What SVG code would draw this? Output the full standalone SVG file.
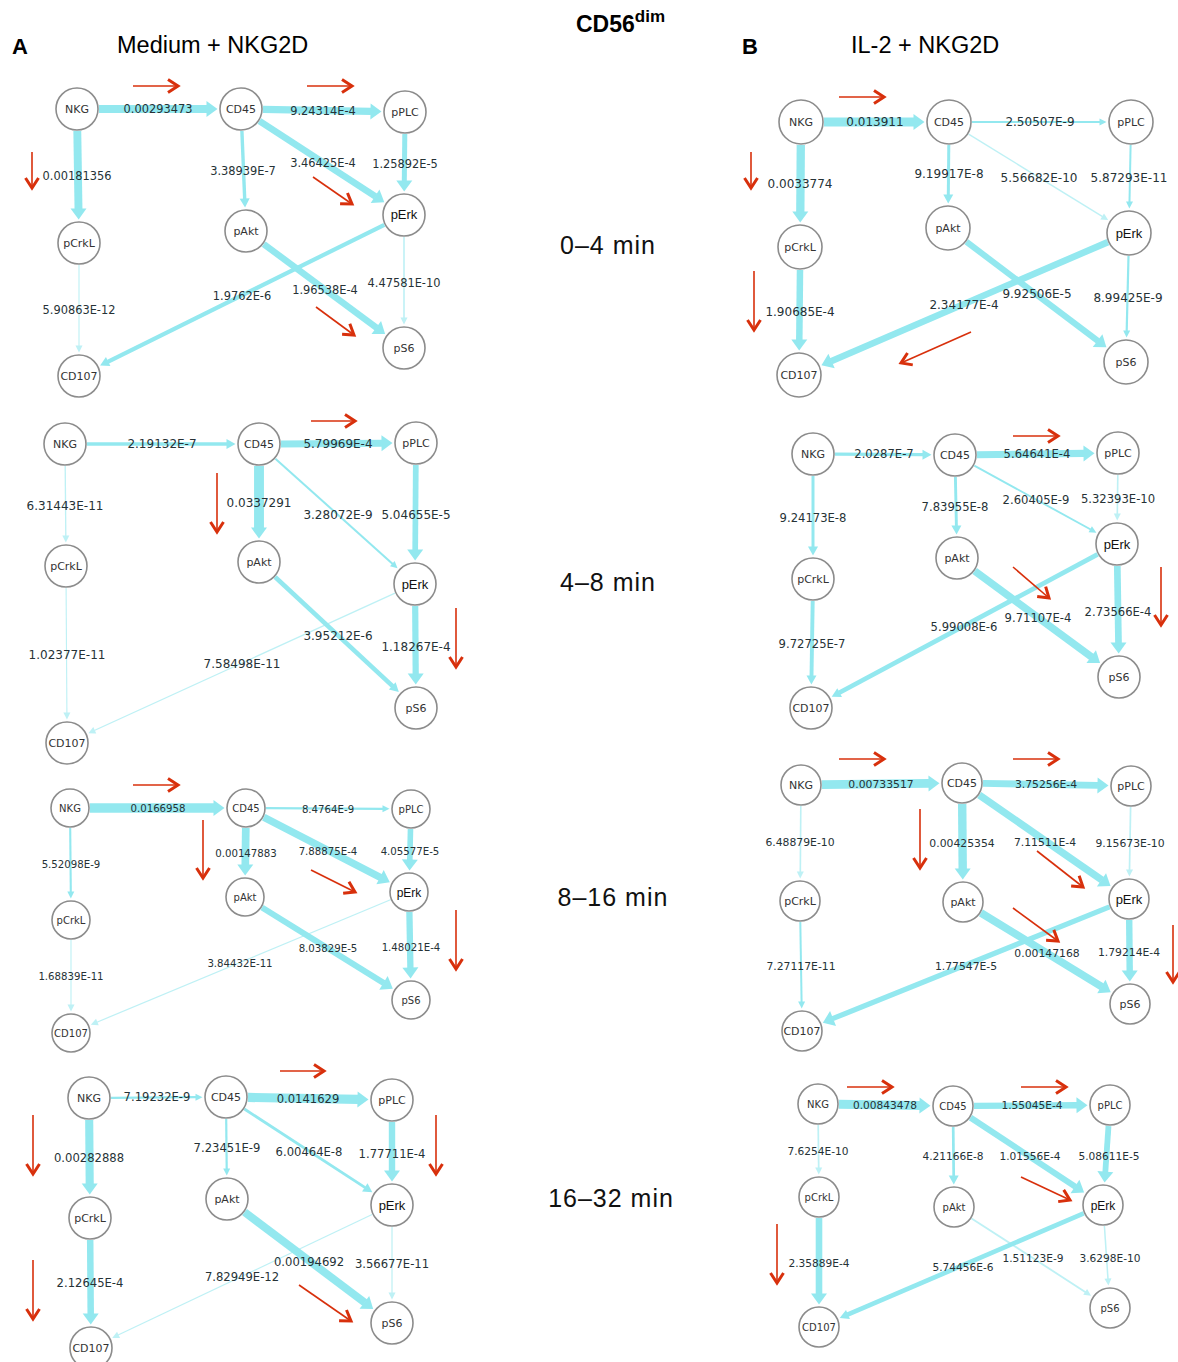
<svg xmlns="http://www.w3.org/2000/svg" width="1178" height="1362" viewBox="0 0 1178 1362">
  <style>
    .hd { font-family: "Liberation Sans", Arial, sans-serif; fill: #000; }
    .tl { font-family: "Liberation Sans", Arial, sans-serif; font-size: 25px; letter-spacing: 1px; text-anchor: middle; fill: #111; }
    .n circle { fill: #fff; stroke: #8c8c8c; stroke-width: 1.6; }
    .n text { font-family: "DejaVu Sans", Verdana, sans-serif; font-size: 11px; fill: #333; text-anchor: middle; }
    .n.sm text { font-size: 10px; }
    .n.erk text { font-family: "Liberation Sans", Arial, sans-serif; font-size: 13px; fill: #111; }
    .n.sm.erk text { font-size: 12px; }
    .e line { stroke: #93e8ef; fill: none; }
    .e line.f { opacity: 0.6; }
    .e text { font-family: "DejaVu Sans", Verdana, sans-serif; font-size: 11.4px; fill: #263236; text-anchor: middle; }
    .s12 .e text { font-size: 12px; }
    .s116 .e text { font-size: 11.6px; }
    .s108 .e text { font-size: 10.8px; }
    .s106 .e text { font-size: 10.6px; }
    .s102 .e text { font-size: 10.2px; }
    .ra line { stroke: #d8300c; stroke-width: 1.6; marker-end: url(#ra); }
  </style>
  <defs>
    <marker id="aL" markerUnits="userSpaceOnUse" markerWidth="12" markerHeight="16" refX="0.5" refY="8" orient="auto" overflow="visible">
      <path d="M0,0 L11,8 L0,16 z" fill="#93e8ef"/>
    </marker>
    <marker id="aM" markerUnits="userSpaceOnUse" markerWidth="10" markerHeight="10" refX="0.5" refY="5" orient="auto" overflow="visible">
      <path d="M0,0 L9,5 L0,10 z" fill="#93e8ef"/>
    </marker>
    <marker id="aS" markerUnits="userSpaceOnUse" markerWidth="8" markerHeight="7" refX="0.5" refY="3.5" orient="auto" overflow="visible">
      <path d="M0,0 L7,3.5 L0,7 z" fill="#93e8ef"/>
    </marker>
    <marker id="ra" markerUnits="userSpaceOnUse" markerWidth="14" markerHeight="16" refX="12" refY="8" orient="auto" overflow="visible">
      <path d="M2,1.5 L12,8 L2,14.5" fill="none" stroke="#d8300c" stroke-width="3" stroke-linejoin="miter"/>
    </marker>
  </defs>
  <rect width="1178" height="1362" fill="#fff"/>

  <!-- headings -->
  <g id="headings">
    <text class="hd" x="12" y="54" font-size="22" font-weight="bold">A</text>
    <text class="hd" x="117" y="53" font-size="23.5">Medium + NKG2D</text>
    <text class="hd" x="576" y="32" font-size="23" font-weight="bold">CD56<tspan font-size="17" dy="-10">dim</tspan></text>
    <text class="hd" x="742" y="54" font-size="22" font-weight="bold">B</text>
    <text class="hd" x="851" y="53" font-size="23.5">IL-2 + NKG2D</text>
    <text class="tl" x="608" y="254">0–4 min</text>
    <text class="tl" x="608" y="591">4–8 min</text>
    <text class="tl" x="613" y="906">8–16 min</text>
    <text class="tl" x="611" y="1207">16–32 min</text>
  </g>

  <!-- connectors: cyan edges with weights -->
  <g id="connectors">
    <g id="edges-a1">
      <g class="e"><line x1="99" y1="109" x2="207" y2="109" stroke-width="8.2" marker-end="url(#aL)"/><text x="158" y="113">0.00293473</text></g>
      <g class="e"><line x1="263" y1="109.4" x2="371" y2="111.4" stroke-width="7.4" marker-end="url(#aL)"/><text x="323" y="115">9.24314E-4</text></g>
      <g class="e"><line x1="77.3" y1="131" x2="78.5" y2="209" stroke-width="7.9" marker-end="url(#aL)"/><text x="77" y="180">0.00181356</text></g>
      <g class="e"><line x1="241.9" y1="131" x2="244.7" y2="199" stroke-width="3.4" marker-end="url(#aM)"/><text x="243" y="175">3.38939E-7</text></g>
      <g class="e"><line x1="259.4" y1="121" x2="375.5" y2="196.5" stroke-width="6.8" marker-end="url(#aL)"/><text x="323" y="167">3.46425E-4</text></g>
      <g class="e"><line x1="404.8" y1="134" x2="404.3" y2="181" stroke-width="5" marker-end="url(#aL)"/><text x="405" y="168">1.25892E-5</text></g>
      <g class="e"><line class="f" x1="79" y1="265" x2="79" y2="346" stroke-width="1.1" marker-end="url(#aS)"/><text x="79" y="314">5.90863E-12</text></g>
      <g class="e"><line x1="384.3" y1="224.8" x2="107.7" y2="361.8" stroke-width="4.2" marker-end="url(#aM)"/><text x="242" y="300">1.9762E-6</text></g>
      <g class="e"><line x1="263.7" y1="244.1" x2="376.7" y2="327.8" stroke-width="6.5" marker-end="url(#aL)"/><text x="325" y="294">1.96538E-4</text></g>
      <g class="e"><line class="f" x1="404" y1="237" x2="404" y2="318" stroke-width="1.6" marker-end="url(#aS)"/><text x="404" y="287">4.47581E-10</text></g>
    </g>
    <g id="edges-b1" class="s12">
      <g class="e"><line x1="824" y1="122" x2="914" y2="122" stroke-width="9.2" marker-end="url(#aL)"/><text x="875" y="126">0.013911</text></g>
      <g class="e"><line x1="972" y1="122" x2="1100" y2="122" stroke-width="1.9" marker-end="url(#aS)"/><text x="1040" y="126">2.50507E-9</text></g>
      <g class="e"><line x1="800.8" y1="145" x2="800.3" y2="212" stroke-width="8.3" marker-end="url(#aL)"/><text x="800" y="188">0.0033774</text></g>
      <g class="e"><line x1="948.8" y1="145" x2="948.3" y2="195" stroke-width="3" marker-end="url(#aM)"/><text x="949" y="178">9.19917E-8</text></g>
      <g class="e"><line class="f" x1="968.6" y1="134.1" x2="1102.6" y2="216.7" stroke-width="1.4" marker-end="url(#aS)"/><text x="1039" y="182">5.56682E-10</text></g>
      <g class="e"><line x1="1130.6" y1="145" x2="1129.5" y2="202" stroke-width="2" marker-end="url(#aS)"/><text x="1129" y="182">5.87293E-11</text></g>
      <g class="e"><line x1="800" y1="270" x2="799.3" y2="340" stroke-width="6.5" marker-end="url(#aL)"/><text x="800" y="316">1.90685E-4</text></g>
      <g class="e"><line x1="1107.9" y1="242.1" x2="831.1" y2="361.2" stroke-width="6.6" marker-end="url(#aL)"/><text x="964" y="309">2.34177E-4</text></g>
      <g class="e"><line x1="966.4" y1="241.8" x2="1098" y2="341" stroke-width="6.1" marker-end="url(#aL)"/><text x="1037" y="298">9.92506E-5</text></g>
      <g class="e"><line x1="1128.5" y1="256" x2="1126.7" y2="331" stroke-width="2.2" marker-end="url(#aS)"/><text x="1128" y="302">8.99425E-9</text></g>
    </g>
    <g id="edges-a2" class="s12">
      <g class="e"><line x1="87" y1="444" x2="227" y2="444" stroke-width="3.3" marker-end="url(#aM)"/><text x="162" y="448">2.19132E-7</text></g>
      <g class="e"><line x1="281" y1="444" x2="382" y2="443.2" stroke-width="7.1" marker-end="url(#aL)"/><text x="338" y="448">5.79969E-4</text></g>
      <g class="e"><line class="f" x1="65.2" y1="466" x2="65.8" y2="536" stroke-width="1.3" marker-end="url(#aS)"/><text x="65" y="510">6.31443E-11</text></g>
      <g class="e"><line x1="259" y1="466" x2="259" y2="528" stroke-width="9.9" marker-end="url(#aL)"/><text x="259" y="507">0.0337291</text></g>
      <g class="e"><line x1="275.4" y1="458.7" x2="392.7" y2="563.9" stroke-width="2" marker-end="url(#aS)"/><text x="338" y="519">3.28072E-9</text></g>
      <g class="e"><line x1="415.8" y1="465" x2="415.2" y2="550" stroke-width="5.7" marker-end="url(#aL)"/><text x="416" y="519">5.04655E-5</text></g>
      <g class="e"><line class="f" x1="66.1" y1="588" x2="66.9" y2="713" stroke-width="1.1" marker-end="url(#aS)"/><text x="67" y="659">1.02377E-11</text></g>
      <g class="e"><line class="f" x1="395" y1="593.1" x2="94.3" y2="730.5" stroke-width="1.3" marker-end="url(#aS)"/><text x="242" y="668">7.58498E-11</text></g>
      <g class="e"><line x1="275.1" y1="577" x2="392.6" y2="686.2" stroke-width="4.5" marker-end="url(#aM)"/><text x="338" y="640">3.95212E-6</text></g>
      <g class="e"><line x1="415.2" y1="606" x2="415.7" y2="674" stroke-width="6.2" marker-end="url(#aL)"/><text x="416" y="651">1.18267E-4</text></g>
    </g>
    <g id="edges-b2" class="s116">
      <g class="e"><line x1="835" y1="454.2" x2="923" y2="454.7" stroke-width="3.3" marker-end="url(#aM)"/><text x="884" y="458">2.0287E-7</text></g>
      <g class="e"><line x1="977" y1="454.7" x2="1084" y2="453.4" stroke-width="7.1" marker-end="url(#aL)"/><text x="1037" y="458">5.64641E-4</text></g>
      <g class="e"><line x1="813" y1="476" x2="813" y2="547" stroke-width="3" marker-end="url(#aM)"/><text x="813" y="522">9.24173E-8</text></g>
      <g class="e"><line x1="955.4" y1="477" x2="956.4" y2="526" stroke-width="2.9" marker-end="url(#aM)"/><text x="955" y="511">7.83955E-8</text></g>
      <g class="e"><line x1="974.3" y1="465.6" x2="1090.7" y2="529.5" stroke-width="1.9" marker-end="url(#aS)"/><text x="1036" y="504">2.60405E-9</text></g>
      <g class="e"><line class="f" x1="1117.8" y1="475" x2="1117.3" y2="514" stroke-width="1.6" marker-end="url(#aS)"/><text x="1118" y="503">5.32393E-10</text></g>
      <g class="e"><line x1="812.7" y1="601" x2="811.5" y2="676" stroke-width="3.9" marker-end="url(#aM)"/><text x="812" y="648">9.72725E-7</text></g>
      <g class="e"><line x1="1097.6" y1="554.4" x2="839.2" y2="692.8" stroke-width="4.7" marker-end="url(#aM)"/><text x="964" y="631">5.99008E-6</text></g>
      <g class="e"><line x1="974.7" y1="571" x2="1091.6" y2="656.9" stroke-width="7.5" marker-end="url(#aL)"/><text x="1038" y="622">9.71107E-4</text></g>
      <g class="e"><line x1="1117.3" y1="566" x2="1118.5" y2="643" stroke-width="6.7" marker-end="url(#aL)"/><text x="1118" y="616">2.73566E-4</text></g>
    </g>
    <g id="edges-a3" class="s102">
      <g class="e"><line x1="90" y1="808" x2="214" y2="808" stroke-width="9.4" marker-end="url(#aL)"/><text x="158" y="811.5">0.0166958</text></g>
      <g class="e"><line x1="266" y1="808.1" x2="383" y2="808.8" stroke-width="2.2" marker-end="url(#aS)"/><text x="328" y="812.5">8.4764E-9</text></g>
      <g class="e"><line x1="70.2" y1="828" x2="70.8" y2="892" stroke-width="2.1" marker-end="url(#aS)"/><text x="71" y="867.5">5.52098E-9</text></g>
      <g class="e"><line x1="245.8" y1="828" x2="245.3" y2="865" stroke-width="7.7" marker-end="url(#aL)"/><text x="246" y="856.5">0.00147883</text></g>
      <g class="e"><line x1="263.8" y1="817.2" x2="380.5" y2="877.4" stroke-width="7.3" marker-end="url(#aL)"/><text x="328" y="854.5">7.88875E-4</text></g>
      <g class="e"><line x1="410.5" y1="829" x2="409.8" y2="860" stroke-width="5.6" marker-end="url(#aL)"/><text x="410" y="854.5">4.05577E-5</text></g>
      <g class="e"><line class="f" x1="71" y1="940" x2="71" y2="1005" stroke-width="1.1" marker-end="url(#aS)"/><text x="71" y="979.5">1.68839E-11</text></g>
      <g class="e"><line class="f" x1="390.5" y1="899.7" x2="96.9" y2="1022.2" stroke-width="1.2" marker-end="url(#aS)"/><text x="240" y="966.5">3.84432E-11</text></g>
      <g class="e"><line x1="262" y1="907.5" x2="383.9" y2="983.1" stroke-width="6" marker-end="url(#aL)"/><text x="328" y="951.5">8.03829E-5</text></g>
      <g class="e"><line x1="409.4" y1="912" x2="410.4" y2="968" stroke-width="6.3" marker-end="url(#aL)"/><text x="411" y="950.5">1.48021E-4</text></g>
    </g>
    <g id="edges-b3" class="s108">
      <g class="e"><line x1="822" y1="784.7" x2="929" y2="783.4" stroke-width="8.8" marker-end="url(#aL)"/><text x="881" y="788">0.00733517</text></g>
      <g class="e"><line x1="983" y1="783.4" x2="1098" y2="785.4" stroke-width="6.9" marker-end="url(#aL)"/><text x="1046" y="788">3.75256E-4</text></g>
      <g class="e"><line class="f" x1="800.8" y1="806" x2="800.3" y2="872" stroke-width="1.6" marker-end="url(#aS)"/><text x="800" y="846">6.48879E-10</text></g>
      <g class="e"><line x1="962.2" y1="804" x2="962.7" y2="869" stroke-width="8.4" marker-end="url(#aL)"/><text x="962" y="847">0.00425354</text></g>
      <g class="e"><line x1="979.2" y1="795" x2="1101.9" y2="880.1" stroke-width="7.3" marker-end="url(#aL)"/><text x="1045" y="846">7.11511E-4</text></g>
      <g class="e"><line class="f" x1="1130.6" y1="807" x2="1129.5" y2="870" stroke-width="1.7" marker-end="url(#aS)"/><text x="1130" y="847">9.15673E-10</text></g>
      <g class="e"><line x1="800.3" y1="922" x2="801.6" y2="1002" stroke-width="2" marker-end="url(#aS)"/><text x="801" y="970">7.27117E-11</text></g>
      <g class="e"><line x1="1109.5" y1="906.9" x2="832.6" y2="1018.7" stroke-width="5.2" marker-end="url(#aL)"/><text x="966" y="970">1.77547E-5</text></g>
      <g class="e"><line x1="980.9" y1="912.9" x2="1101.8" y2="986.8" stroke-width="7.7" marker-end="url(#aL)"/><text x="1047" y="957">0.00147168</text></g>
      <g class="e"><line x1="1129.2" y1="920" x2="1129.7" y2="971" stroke-width="6.4" marker-end="url(#aL)"/><text x="1129" y="956">1.79214E-4</text></g>
    </g>
    <g id="edges-a4" class="s116">
      <g class="e"><line x1="111" y1="1097.8" x2="196" y2="1097.2" stroke-width="2.2" marker-end="url(#aS)"/><text x="157" y="1101">7.19232E-9</text></g>
      <g class="e"><line x1="248" y1="1097.4" x2="358" y2="1099.4" stroke-width="9.2" marker-end="url(#aL)"/><text x="308" y="1103">0.0141629</text></g>
      <g class="e"><line x1="89.2" y1="1120" x2="89.7" y2="1184" stroke-width="8.1" marker-end="url(#aL)"/><text x="89" y="1162">0.00282888</text></g>
      <g class="e"><line x1="226.2" y1="1119" x2="226.7" y2="1169" stroke-width="2.2" marker-end="url(#aS)"/><text x="227" y="1152">7.23451E-9</text></g>
      <g class="e"><line x1="244.4" y1="1109" x2="365.2" y2="1187.6" stroke-width="2.8" marker-end="url(#aM)"/><text x="309" y="1156">6.00464E-8</text></g>
      <g class="e"><line x1="392" y1="1122" x2="392" y2="1171" stroke-width="6.4" marker-end="url(#aL)"/><text x="392" y="1158">1.77711E-4</text></g>
      <g class="e"><line x1="90.2" y1="1240" x2="90.7" y2="1314" stroke-width="6.5" marker-end="url(#aL)"/><text x="90" y="1287">2.12645E-4</text></g>
      <g class="e"><line class="f" x1="372.1" y1="1214.4" x2="118.1" y2="1335.1" stroke-width="1.1" marker-end="url(#aS)"/><text x="242" y="1281">7.82949E-12</text></g>
      <g class="e"><line x1="244.6" y1="1212.2" x2="364.8" y2="1302.6" stroke-width="7.9" marker-end="url(#aL)"/><text x="309" y="1266">0.00194692</text></g>
      <g class="e"><line class="f" x1="392" y1="1227" x2="392" y2="1293" stroke-width="1.2" marker-end="url(#aS)"/><text x="392" y="1268">3.56677E-11</text></g>
    </g>
    <g id="edges-b4" class="s106">
      <g class="e"><line x1="839" y1="1104.3" x2="920" y2="1105.5" stroke-width="8.9" marker-end="url(#aL)"/><text x="885" y="1109">0.00843478</text></g>
      <g class="e"><line x1="974" y1="1105.9" x2="1077" y2="1105.2" stroke-width="6.4" marker-end="url(#aL)"/><text x="1032" y="1109">1.55045E-4</text></g>
      <g class="e"><line class="f" x1="818.2" y1="1125" x2="818.7" y2="1168" stroke-width="1.7" marker-end="url(#aS)"/><text x="818" y="1155">7.6254E-10</text></g>
      <g class="e"><line x1="953.2" y1="1127" x2="953.7" y2="1176" stroke-width="2.7" marker-end="url(#aM)"/><text x="953" y="1160">4.21166E-8</text></g>
      <g class="e"><line x1="970.5" y1="1117.6" x2="1075.4" y2="1186.8" stroke-width="6.1" marker-end="url(#aL)"/><text x="1030" y="1160">1.01556E-4</text></g>
      <g class="e"><line x1="1108.5" y1="1126" x2="1105.3" y2="1172.1" stroke-width="5.8" marker-end="url(#aL)"/><text x="1109" y="1160">5.08611E-5</text></g>
      <g class="e"><line x1="819" y1="1218" x2="819" y2="1294" stroke-width="6.6" marker-end="url(#aL)"/><text x="819" y="1267">2.35889E-4</text></g>
      <g class="e"><line x1="1083.7" y1="1213.3" x2="847.5" y2="1314.7" stroke-width="4.7" marker-end="url(#aM)"/><text x="963" y="1271">5.74456E-6</text></g>
      <g class="e"><line class="f" x1="971.6" y1="1218.4" x2="1085.6" y2="1292.2" stroke-width="1.8" marker-end="url(#aS)"/><text x="1033" y="1262">1.51123E-9</text></g>
      <g class="e"><line class="f" x1="1104.4" y1="1226" x2="1108" y2="1279.1" stroke-width="1.5" marker-end="url(#aS)"/><text x="1110" y="1262">3.6298E-10</text></g>
    </g>
  </g>

  <!-- nodes -->
  <g id="nodes">
    <g id="a1-nkg" class="n"><circle cx="77" cy="109" r="21"/><text x="77" y="113">NKG</text></g>
    <g id="a1-cd45" class="n"><circle cx="241" cy="109" r="21"/><text x="241" y="113">CD45</text></g>
    <g id="a1-pplc" class="n"><circle cx="405" cy="112" r="21"/><text x="405" y="116">pPLC</text></g>
    <g id="a1-pcrkl" class="n"><circle cx="79" cy="243" r="21"/><text x="79" y="247">pCrkL</text></g>
    <g id="a1-pakt" class="n"><circle cx="246" cy="231" r="21"/><text x="246" y="235">pAkt</text></g>
    <g id="a1-perk" class="n erk"><circle cx="404" cy="215" r="21"/><text x="404" y="219">pErk</text></g>
    <g id="a1-ps6" class="n"><circle cx="404" cy="348" r="21"/><text x="404" y="352">pS6</text></g>
    <g id="a1-cd107" class="n"><circle cx="79" cy="376" r="21"/><text x="79" y="380">CD107</text></g>

    <g id="b1-nkg" class="n"><circle cx="801" cy="122" r="22"/><text x="801" y="126">NKG</text></g>
    <g id="b1-cd45" class="n"><circle cx="949" cy="122" r="22"/><text x="949" y="126">CD45</text></g>
    <g id="b1-pplc" class="n"><circle cx="1131" cy="122" r="22"/><text x="1131" y="126">pPLC</text></g>
    <g id="b1-pcrkl" class="n"><circle cx="800" cy="247" r="22"/><text x="800" y="251">pCrkL</text></g>
    <g id="b1-pakt" class="n"><circle cx="948" cy="228" r="22"/><text x="948" y="232">pAkt</text></g>
    <g id="b1-perk" class="n erk"><circle cx="1129" cy="233" r="22"/><text x="1129" y="238">pErk</text></g>
    <g id="b1-ps6" class="n"><circle cx="1126" cy="362" r="22"/><text x="1126" y="366">pS6</text></g>
    <g id="b1-cd107" class="n"><circle cx="799" cy="375" r="22"/><text x="799" y="379">CD107</text></g>

    <g id="a2-nkg" class="n"><circle cx="65" cy="444" r="21"/><text x="65" y="448">NKG</text></g>
    <g id="a2-cd45" class="n"><circle cx="259" cy="444" r="21"/><text x="259" y="448">CD45</text></g>
    <g id="a2-pplc" class="n"><circle cx="416" cy="443" r="21"/><text x="416" y="447">pPLC</text></g>
    <g id="a2-pcrkl" class="n"><circle cx="66" cy="566" r="21"/><text x="66" y="570">pCrkL</text></g>
    <g id="a2-pakt" class="n"><circle cx="259" cy="562" r="21"/><text x="259" y="566">pAkt</text></g>
    <g id="a2-perk" class="n erk"><circle cx="415" cy="584" r="21"/><text x="415" y="589">pErk</text></g>
    <g id="a2-ps6" class="n"><circle cx="416" cy="708" r="21"/><text x="416" y="712">pS6</text></g>
    <g id="a2-cd107" class="n"><circle cx="67" cy="743" r="21"/><text x="67" y="747">CD107</text></g>

    <g id="b2-nkg" class="n"><circle cx="813" cy="454" r="21"/><text x="813" y="458">NKG</text></g>
    <g id="b2-cd45" class="n"><circle cx="955" cy="455" r="21"/><text x="955" y="459">CD45</text></g>
    <g id="b2-pplc" class="n"><circle cx="1118" cy="453" r="21"/><text x="1118" y="457">pPLC</text></g>
    <g id="b2-pcrkl" class="n"><circle cx="813" cy="579" r="21"/><text x="813" y="583">pCrkL</text></g>
    <g id="b2-pakt" class="n"><circle cx="957" cy="558" r="21"/><text x="957" y="562">pAkt</text></g>
    <g id="b2-perk" class="n erk"><circle cx="1117" cy="544" r="21"/><text x="1117" y="549">pErk</text></g>
    <g id="b2-ps6" class="n"><circle cx="1119" cy="677" r="21"/><text x="1119" y="681">pS6</text></g>
    <g id="b2-cd107" class="n"><circle cx="811" cy="708" r="21"/><text x="811" y="712">CD107</text></g>

    <g id="a3-nkg" class="n sm"><circle cx="70" cy="808" r="19"/><text x="70" y="811.5">NKG</text></g>
    <g id="a3-cd45" class="n sm"><circle cx="246" cy="808" r="19"/><text x="246" y="811.5">CD45</text></g>
    <g id="a3-pplc" class="n sm"><circle cx="411" cy="809" r="19"/><text x="411" y="812.5">pPLC</text></g>
    <g id="a3-pcrkl" class="n sm"><circle cx="71" cy="920" r="19"/><text x="71" y="923.5">pCrkL</text></g>
    <g id="a3-pakt" class="n sm"><circle cx="245" cy="897" r="19"/><text x="245" y="900.5">pAkt</text></g>
    <g id="a3-perk" class="n sm erk"><circle cx="409" cy="892" r="19"/><text x="409" y="896.5">pErk</text></g>
    <g id="a3-ps6" class="n sm"><circle cx="411" cy="1000" r="19"/><text x="411" y="1003.5">pS6</text></g>
    <g id="a3-cd107" class="n sm"><circle cx="71" cy="1033" r="19"/><text x="71" y="1036.5">CD107</text></g>

    <g id="b3-nkg" class="n"><circle cx="801" cy="785" r="20"/><text x="801" y="789">NKG</text></g>
    <g id="b3-cd45" class="n"><circle cx="962" cy="783" r="20"/><text x="962" y="787">CD45</text></g>
    <g id="b3-pplc" class="n"><circle cx="1131" cy="786" r="20"/><text x="1131" y="790">pPLC</text></g>
    <g id="b3-pcrkl" class="n"><circle cx="800" cy="901" r="20"/><text x="800" y="905">pCrkL</text></g>
    <g id="b3-pakt" class="n"><circle cx="963" cy="902" r="20"/><text x="963" y="906">pAkt</text></g>
    <g id="b3-perk" class="n erk"><circle cx="1129" cy="899" r="20"/><text x="1129" y="904">pErk</text></g>
    <g id="b3-ps6" class="n"><circle cx="1130" cy="1004" r="20"/><text x="1130" y="1008">pS6</text></g>
    <g id="b3-cd107" class="n"><circle cx="802" cy="1031" r="20"/><text x="802" y="1035">CD107</text></g>

    <g id="a4-nkg" class="n"><circle cx="89" cy="1098" r="21"/><text x="89" y="1102">NKG</text></g>
    <g id="a4-cd45" class="n"><circle cx="226" cy="1097" r="21"/><text x="226" y="1101">CD45</text></g>
    <g id="a4-pplc" class="n"><circle cx="392" cy="1100" r="21"/><text x="392" y="1104">pPLC</text></g>
    <g id="a4-pcrkl" class="n"><circle cx="90" cy="1218" r="21"/><text x="90" y="1222">pCrkL</text></g>
    <g id="a4-pakt" class="n"><circle cx="227" cy="1199" r="21"/><text x="227" y="1203">pAkt</text></g>
    <g id="a4-perk" class="n erk"><circle cx="392" cy="1205" r="21"/><text x="392" y="1210">pErk</text></g>
    <g id="a4-ps6" class="n"><circle cx="392" cy="1323" r="21"/><text x="392" y="1327">pS6</text></g>
    <g id="a4-cd107" class="n"><circle cx="91" cy="1348" r="21"/><text x="91" y="1352">CD107</text></g>

    <g id="b4-nkg" class="n sm"><circle cx="818" cy="1104" r="20"/><text x="818" y="1107.5">NKG</text></g>
    <g id="b4-cd45" class="n sm"><circle cx="953" cy="1106" r="20"/><text x="953" y="1109.5">CD45</text></g>
    <g id="b4-pplc" class="n sm"><circle cx="1110" cy="1105" r="20"/><text x="1110" y="1108.5">pPLC</text></g>
    <g id="b4-pcrkl" class="n sm"><circle cx="819" cy="1197" r="20"/><text x="819" y="1200.5">pCrkL</text></g>
    <g id="b4-pakt" class="n sm"><circle cx="954" cy="1207" r="20"/><text x="954" y="1210.5">pAkt</text></g>
    <g id="b4-perk" class="n sm erk"><circle cx="1103" cy="1205" r="20"/><text x="1103" y="1209.5">pErk</text></g>
    <g id="b4-ps6" class="n sm"><circle cx="1110" cy="1308" r="20"/><text x="1110" y="1311.5">pS6</text></g>
    <g id="b4-cd107" class="n sm"><circle cx="819" cy="1327" r="20"/><text x="819" y="1330.5">CD107</text></g>
  </g>

  <!-- red trend arrows -->
  <g id="trend-arrows" class="ra">
    <line x1="133" y1="86" x2="178" y2="86"/>
    <line x1="307" y1="86" x2="352" y2="86"/>
    <line x1="32" y1="152" x2="32" y2="188"/>
    <line x1="313" y1="177" x2="352" y2="204"/>
    <line x1="316" y1="307" x2="354" y2="335"/>

    <line x1="839" y1="97" x2="884" y2="97"/>
    <line x1="751" y1="152" x2="751" y2="188"/>
    <line x1="754" y1="271" x2="754" y2="330"/>
    <line x1="971" y1="332" x2="901" y2="363"/>

    <line x1="311" y1="421" x2="355" y2="421"/>
    <line x1="217" y1="473" x2="217" y2="532"/>
    <line x1="456" y1="608" x2="456" y2="667"/>

    <line x1="1013" y1="436" x2="1058" y2="436"/>
    <line x1="1013" y1="567" x2="1049" y2="598"/>
    <line x1="1161" y1="567" x2="1161" y2="625"/>

    <line x1="133" y1="785" x2="178" y2="785"/>
    <line x1="203" y1="820" x2="203" y2="878"/>
    <line x1="311" y1="870" x2="355" y2="892"/>
    <line x1="456" y1="910" x2="456" y2="969"/>

    <line x1="839" y1="759" x2="884" y2="759"/>
    <line x1="1013" y1="759" x2="1058" y2="759"/>
    <line x1="920" y1="809" x2="920" y2="868"/>
    <line x1="1037" y1="851" x2="1083" y2="887"/>
    <line x1="1013" y1="908" x2="1058" y2="941"/>
    <line x1="1173" y1="925" x2="1173" y2="982"/>

    <line x1="280" y1="1071" x2="324" y2="1071"/>
    <line x1="33" y1="1115" x2="33" y2="1174"/>
    <line x1="436" y1="1115" x2="436" y2="1174"/>
    <line x1="33" y1="1260" x2="33" y2="1319"/>
    <line x1="299" y1="1285" x2="351" y2="1321"/>

    <line x1="847" y1="1087" x2="892" y2="1087"/>
    <line x1="1021" y1="1087" x2="1066" y2="1087"/>
    <line x1="1021" y1="1177" x2="1070" y2="1200"/>
    <line x1="777" y1="1224" x2="777" y2="1283"/>
  </g>
</svg>
